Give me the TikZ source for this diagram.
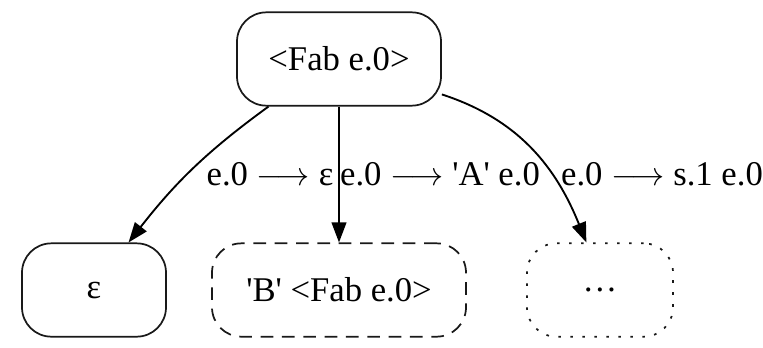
\documentclass[tikz,border=0pt]{standalone}
\usepackage{fontspec}
\setmainfont{Liberation Serif}
\usetikzlibrary{arrows.meta}
\colorlet{fabink}{black!90}
\newcommand{\fabsize}{\fontsize{26}{30}\selectfont}
\newcommand{\fabto}{$\longrightarrow$}
\tikzset{
  fabstate/.style={
    draw=fabink,
    line width=1.3pt,
    rounded corners=22pt,
    align=center,
    inner sep=0pt,
    minimum height=70pt,
    font=\fabsize
  },
  fabsolid/.style={fabstate},
  fabdashed/.style={fabstate,dash pattern=on 9.5pt off 6.5pt},
  fabdotted/.style={fabstate,dash pattern=on 2pt off 7pt},
  fabedge/.style={-{Triangle[length=15pt,width=11pt]},line width=1.4pt,black},
  fablabel/.style={font=\fabsize,inner sep=0pt,anchor=base}
}
\begin{document}
\begin{tikzpicture}[x=0.75pt,y=0.75pt]
  \useasboundingbox (0,0) rectangle (763,-347);

  \node[fabsolid,minimum width=153pt] (fab) at (339,-59) {<Fab e.0>};
  \node[fabsolid,minimum width=108pt] (eps) at (94,-290) {ε};
  \node[fabdashed,minimum width=190.5pt] (bfab) at (339,-290) {\textquotesingle B\textquotesingle\ <Fab e.0>};
  \node[fabdotted,minimum width=109.5pt] (more) at (600,-290) {\ldots};

  \draw[fabedge] (fab.214) to[out=216,in=52] (eps.54);
  \draw[fabedge] (fab) -- (bfab);
  \draw[fabedge] (fab.-19) to[out=-18,in=112] (more.106);

  \node[fablabel] (lbleps) at (270,-185) {e.0 \fabto{} ε};
  \node[fablabel] (lbla) at (440,-185) {e.0 \fabto{} \textquotesingle A\textquotesingle\ e.0};
  \node[fablabel] (lbls) at (662,-185) {e.0 \fabto{} s.1 e.0};
\end{tikzpicture}
\end{document}
